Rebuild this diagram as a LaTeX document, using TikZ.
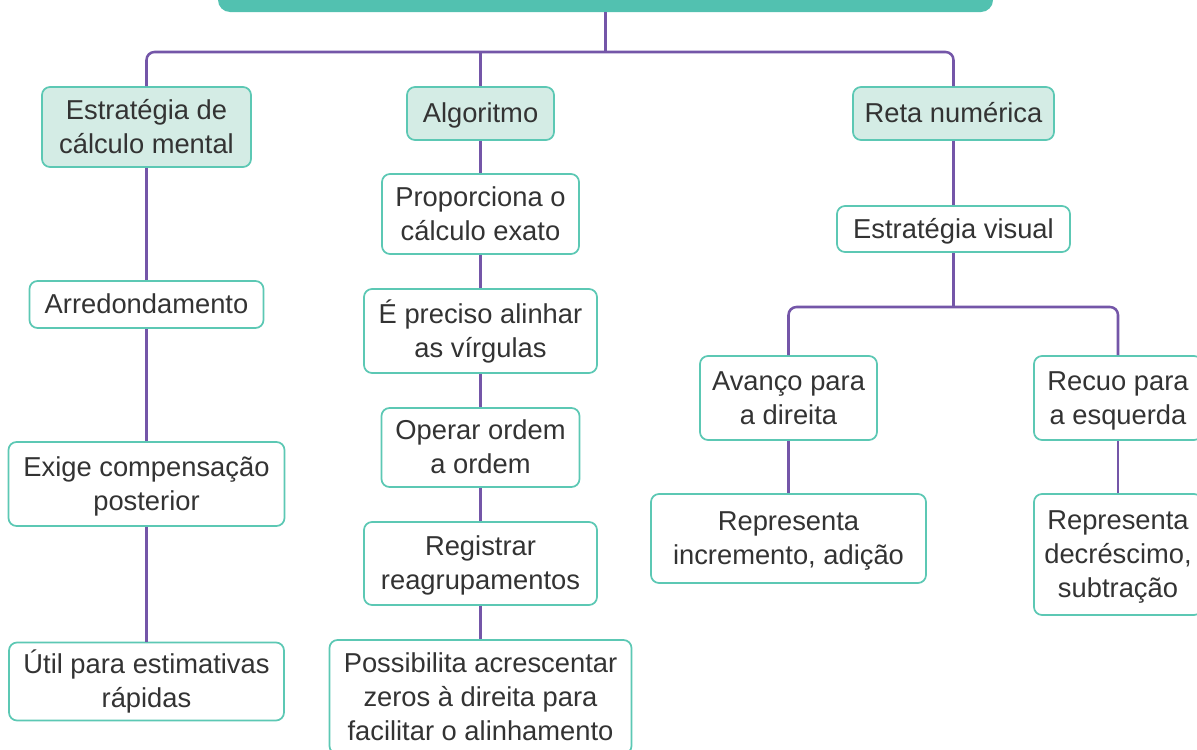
\documentclass[tikz,border=0pt]{standalone}
\usepackage{fontspec}
\setmainfont{Liberation Sans}
\definecolor{conncol}{HTML}{7456A8}
\definecolor{boxline}{HTML}{5CC8B4}
\definecolor{boxfill}{HTML}{D4ECE5}
\definecolor{titlefill}{HTML}{52C1B0}
\definecolor{txt}{HTML}{333333}
\newcommand\ts{\rule{0pt}{21.8pt}}
\newcommand\botstrut{\rule[-7.65pt]{0pt}{7.65pt}}
\tikzset{
  wh/.style 2 args={minimum width=#1*0.75pt, minimum height=#2*0.75pt},
  box/.style={draw=boxline, line width=1.3pt, rounded corners=6pt, fill=white,
    text=txt, align=center, inner sep=0pt, rectangle,
    font=\fontsize{20.5pt}{25.5pt}\selectfont,
    execute at end node=\botstrut},
  topbox/.style={box, fill=boxfill},
  titlebox/.style={fill=titlefill, rounded corners=9pt, inner sep=0pt, rectangle},
  conn/.style={draw=conncol, line width=1.9pt, rounded corners=6pt}
}
\begin{document}
\begin{tikzpicture}[x=0.75pt, y=-0.75pt]
\useasboundingbox (0,0) rectangle (1197,750);
\fill[white] (0,0) rectangle (1197,750);

% title (cut at top)
\node[titlebox, wh={775}{44}] (title) at (605.5,-10) {};

% level 1
\node[topbox, wh={209}{80}] (est) at (146.5,127) {\ts Estratégia de\\cálculo mental};
\node[topbox, wh={147}{53}] (alg) at (480.5,113.5) {\ts Algoritmo};
\node[topbox, wh={201}{53}] (reta) at (953.5,113.5) {\ts Reta numérica};

% left column
\node[box, wh={234}{47}] (arr) at (146.5,304.5) {\ts Arredondamento};
\node[box, wh={276}{84}] (exi) at (146.5,484) {\ts Exige compensação\\posterior};
\node[box, wh={275}{78}] (uti) at (146.5,681.5) {\ts Útil para estimativas\\rápidas};

% middle column
\node[box, wh={197}{80}] (pro) at (480.5,214) {\ts Proporciona o\\cálculo exato};
\node[box, wh={233}{84}] (pre) at (480.5,331) {\ts É preciso alinhar\\as vírgulas};
\node[box, wh={198}{79}] (ope) at (480.5,447.5) {\ts Operar ordem\\a ordem};
\node[box, wh={233}{83}] (reg) at (480.5,563.5) {\ts Registrar\\reagrupamentos};
\node[box, wh={302}{114}] (pos) at (480.5,697) {\ts Possibilita acrescentar\\zeros à direita para\\facilitar o alinhamento};

% right column
\node[box, wh={233}{46}] (vis) at (953.5,229) {\ts Estratégia visual};
\node[box, wh={177}{84}] (ava) at (788.5,398) {\ts Avanço para\\a direita};
\node[box, wh={168}{84}] (rec) at (1118,398) {\ts Recuo para\\a esquerda};
\node[box, wh={275}{89}] (rin) at (788.5,538.5) {\ts Representa\\incremento, adição};
\node[box, wh={168}{121}] (rde) at (1118,554.5) {\ts Representa\\decréscimo,\\subtração};

\coordinate (bus) at (0,52);
\coordinate (bus2) at (0,307);

% connectors
\draw[conn] (title.south) -- (title.south |- bus);
\draw[conn] (est.north) -- (est.north |- bus) -- (reta.north |- bus) -- (reta.north);
\draw[conn] (alg.north) -- (alg.north |- bus);

\draw[conn] (est.south) -- (arr.north);
\draw[conn] (arr.south) -- (exi.north);
\draw[conn] (exi.south) -- (uti.north);

\draw[conn] (alg.south) -- (pro.north);
\draw[conn] (pro.south) -- (pre.north);
\draw[conn] (pre.south) -- (ope.north);
\draw[conn] (ope.south) -- (reg.north);
\draw[conn] (reg.south) -- (pos.north);

\draw[conn] (reta.south) -- (vis.north);
\draw[conn] (vis.south) -- (vis.south |- bus2);
\draw[conn] (ava.north) -- (ava.north |- bus2) -- (rec.north |- bus2) -- (rec.north);
\draw[conn] (ava.south) -- (rin.north);
\draw[conn] (rec.south) -- (rde.north);
\end{tikzpicture}
\end{document}
